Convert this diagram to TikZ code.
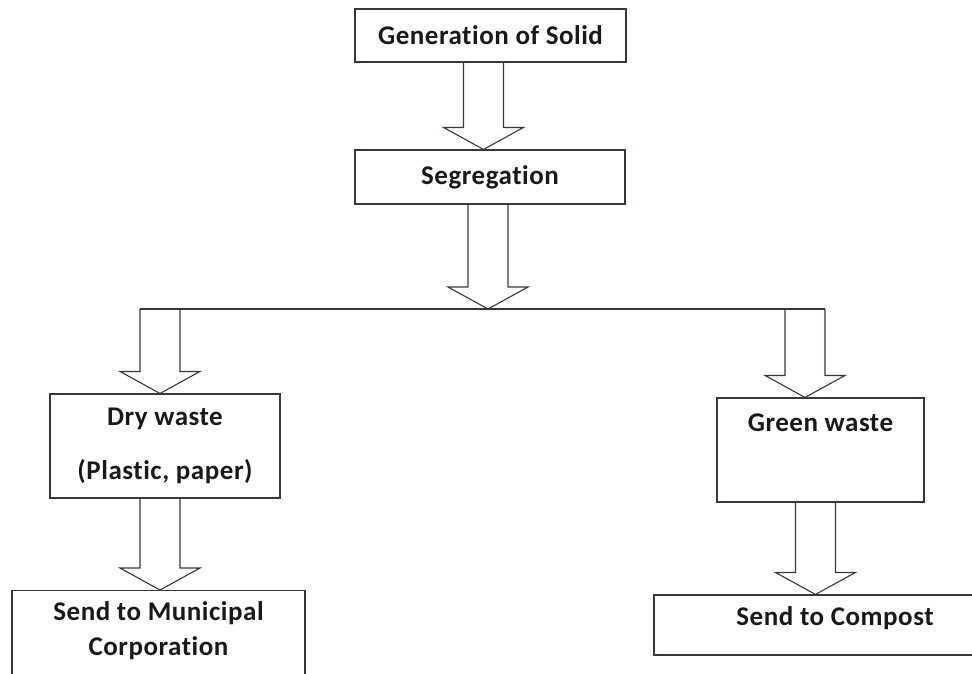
\documentclass[tikz,border=0pt]{standalone}
\usepackage{fontspec}
\setmainfont{Carlito}[Ligatures=NoCommon, LetterSpace=2]
\usetikzlibrary{calc}
\definecolor{ink}{RGB}{55,55,68}
\tikzstyle{block} = [draw=ink, line width=1.1pt, rectangle, align=center, text=black!90, font=\fontsize{27}{32}\selectfont\bfseries]
\tikzstyle{fat} = [draw=ink, line width=1.1pt]
\tikzstyle{split} = [draw=ink, line width=1.1pt]
\newcommand{\fatarrow}[2]{%
  \draw [fat] ($(#1)+(-20pt,0pt)$) -- ($(#2)+(-20pt,22pt)$) -- ($(#2)+(-40pt,22pt)$)
    -- (#2) -- ($(#2)+(40pt,22pt)$) -- ($(#2)+(20pt,22pt)$) -- ($(#1)+(20pt,0pt)$);}

\begin{document}
\begin{tikzpicture}[x=1pt, y=-1pt]
  \useasboundingbox (0,0) rectangle (972,673);
  \clip (0,0) rectangle (972,673);

  \node [block, minimum width=271pt, minimum height=53pt] (gen) at (490.5,35.5) {Generation of Solid};
  \node [block, minimum width=270pt, minimum height=54pt] (seg) at (490,177) {Segregation};
  \node [block, minimum width=230pt, minimum height=104pt] (dry) at (165,446) {Dry waste\\[22pt](Plastic, paper)};
  \node [block, minimum width=207pt, minimum height=104pt] (green) at (820.5,450) {Green waste\\[22pt]~};
  \node [block, minimum width=293pt, anchor=north, inner ysep=11pt, text depth=80pt] (muni) at (158.5,590) {Send to Municipal\\[3pt]Corporation};
  \node [block, minimum width=362pt, minimum height=60pt, text depth=18pt] (compost) at (835,625) {Send to Compost};

  % split line under segregation
  \coordinate (splitL) at (140,309);
  \coordinate (splitR) at (825,309);
  \draw [split] (splitL) -- (splitR);

  \coordinate (a1s) at ([xshift=-7pt]gen.south);
  \coordinate (a1e) at (a1s |- seg.north);
  \coordinate (a2s) at ([xshift=-2pt]seg.south);
  \coordinate (a2e) at (a2s |- splitL);
  \coordinate (a3s) at ([xshift=20pt]splitL);
  \coordinate (a3e) at (a3s |- dry.north);
  \coordinate (a4s) at ([xshift=-20pt]splitR);
  \coordinate (a4e) at (a4s |- green.north);
  \coordinate (a5s) at ([xshift=-5pt]dry.south);
  \coordinate (a5e) at (a5s |- muni.north);
  \coordinate (a6s) at ([xshift=-5pt]green.south);
  \coordinate (a6e) at (a6s |- compost.north);

  \fatarrow{a1s}{a1e}
  \fatarrow{a2s}{a2e}
  \fatarrow{a3s}{a3e}
  \fatarrow{a4s}{a4e}
  \fatarrow{a5s}{a5e}
  \fatarrow{a6s}{a6e}
\end{tikzpicture}
\end{document}
